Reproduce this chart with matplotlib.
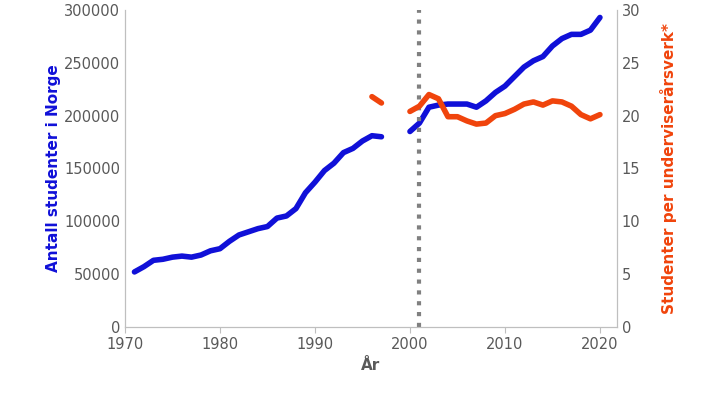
import matplotlib
matplotlib.use("Agg")
import matplotlib.pyplot as plt
import numpy as np

years1 = list(range(1971, 1998))
students1 = [52000,57000,63000,64000,66000,67000,66000,68000,72000,74000,81000,87000,90000,93000,95000,
             103000,105000,112000,127000,137000,148000,155000,165000,169000,176000,181000,180000]
years2 = list(range(2000, 2021))
students2 = [185000,193000,208000,210000,211000,211000,211000,208000,214000,222000,228000,237000,246000,
             252000,256000,266000,273000,277000,277000,281000,293000]
ratio_years1 = [1996, 1997]
ratio1 = [21.8, 21.2]
ratio_years2 = list(range(2000, 2021))
ratio2 = [20.4,20.9,22.0,21.6,19.9,19.9,19.5,19.2,19.3,20.0,20.2,20.6,21.1,21.3,21.0,21.4,21.3,20.9,20.1,19.7,20.1]

blue = "#1010d8"
red = "#f0440c"
grey = "#595959"

fig = plt.figure(figsize=(7.06, 4.03), dpi=100)
ax = fig.add_axes([0.177, 0.189, 0.697, 0.786])
ax2 = ax.twinx()

ax.plot(years1, students1, color=blue, lw=4, solid_capstyle="round")
ax.plot(years2, students2, color=blue, lw=4, solid_capstyle="round")
ax2.plot(ratio_years1, ratio1, color=red, lw=4, solid_capstyle="round")
ax2.plot(ratio_years2, ratio2, color=red, lw=4, solid_capstyle="round")
ax.axvline(2001, color="#808080", lw=3, ls=(0, (1, 1.6)))

ax.set_xlim(1970, 2021.8)
ax.set_ylim(0, 300000)
ax2.set_ylim(0, 30)
ax.set_xticks([1970, 1980, 1990, 2000, 2010, 2020])
ax.set_yticks(range(0, 300001, 50000))
ax2.set_yticks(range(0, 31, 5))

for a in (ax, ax2):
    for s in a.spines.values():
        s.set_color("#bfbfbf")
    a.spines["top"].set_visible(False)
    a.tick_params(colors=grey, labelsize=10.5, length=0)
    for lbl in a.get_yticklabels() + a.get_xticklabels():
        lbl.set_color(grey)
ax.tick_params(axis="x", length=4, color="#bfbfbf")

ax.set_xlabel("År", color=grey, fontsize=11, fontweight="bold")
ax.set_ylabel("Antall studenter i Norge", color=blue, fontsize=11, fontweight="bold", labelpad=2)
ax2.set_ylabel("Studenter per underviserårsverk*", color=red, fontsize=11, fontweight="bold", labelpad=14)

fig.savefig("out.png", dpi=100)
